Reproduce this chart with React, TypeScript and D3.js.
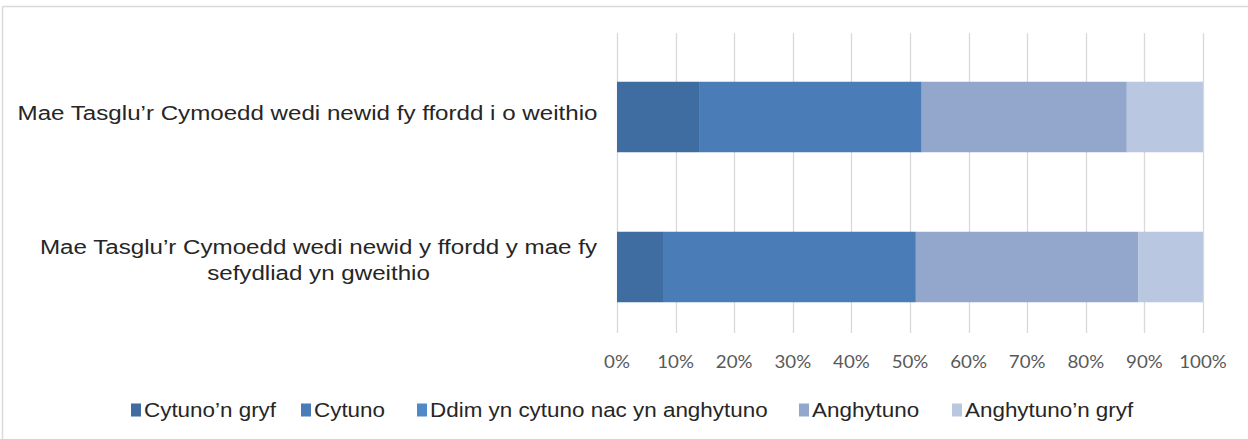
import React from "react";
import * as d3 from "d3";

const categories = [
  ["Mae Tasglu’r Cymoedd wedi newid fy ffordd i o weithio"],
  ["Mae Tasglu’r Cymoedd wedi newid y ffordd y mae fy", "sefydliad yn gweithio"],
];
const seriesNames = [
  "Cytuno’n gryf",
  "Cytuno",
  "Ddim yn cytuno nac yn anghytuno",
  "Anghytuno",
  "Anghytuno’n gryf",
];
const seriesColors = ["#3f6ca1", "#4a7db8", "#5089c8", "#93a7cd", "#b9c8e0"];
const cytunoGryf = [14, 8];
const cytuno = [38, 43];
const ddim = [0, 0];
const anghytuno = [35, 38];
const anghytunoGryf = [13, 11];
const tickValues = [0, 10, 20, 30, 40, 50, 60, 70, 80, 90, 100];

const W = 1248;
const H = 439;
const SX = 1.15;

export default function App() {
  const series = [cytunoGryf, cytuno, ddim, anghytuno, anghytunoGryf];
  const x = d3.scaleLinear().domain([0, 100]).range([617, 1203]);
  const y = d3
    .scaleBand<number>()
    .domain([0, 1])
    .range([42, 342])
    .paddingInner(0.53)
    .paddingOuter(0.265);
  const bw = y.bandwidth();

  const rows = categories.map((_, ci) => {
    let acc = 0;
    return series.map((s, si) => {
      const x0 = acc;
      acc += s[ci];
      return { si, x0, x1: acc };
    });
  });

  const legendX = [144, 314, 430, 812, 965];
  const labelCX = [307.5, 318.5];
  const labelBase = [[120], [254, 280]];

  return (
    <div style={{ position: "absolute", left: 0, top: 0 }}>
      <svg width={W} height={H} style={{ display: "block", background: "#fff" }}>
        <line x1={2.5} x2={W} y1={6.5} y2={6.5} stroke="#d9d9d9" strokeWidth={1.5} />
        <line x1={2.5} x2={2.5} y1={6.5} y2={H} stroke="#d9d9d9" strokeWidth={1.5} />
        {tickValues.map((t) => (
          <line
            key={t}
            x1={Math.round(x(t)) + 0.5}
            x2={Math.round(x(t)) + 0.5}
            y1={33}
            y2={333}
            stroke="#d9d9d9"
            strokeWidth={1.3}
          />
        ))}
        {rows.map((segs, ci) =>
          segs.map((sg) =>
            sg.x1 > sg.x0 ? (
              <rect
                key={ci + "-" + sg.si}
                x={x(sg.x0)}
                y={y(ci)!}
                width={x(sg.x1) - x(sg.x0)}
                height={bw}
                fill={seriesColors[sg.si]}
              />
            ) : null
          )
        )}
        {tickValues.map((t) => (
          <text
            key={"t" + t}
            transform={`translate(${x(t)},368) scale(1.1,1)`}
            textAnchor="middle"
            fontFamily="Lato, 'Open Sans', sans-serif"
            fontSize={17}
            fill="#595959"
          >
            {t + "%"}
          </text>
        ))}
        {categories.map((lines, ci) =>
          lines.map((l, li) => (
            <text
              key={"c" + ci + "-" + li}
              transform={`translate(${labelCX[ci]},${labelBase[ci][li]}) scale(${SX},1)`}
              fontFamily="'Liberation Sans', Arial, sans-serif"
              fontSize={21}
              fill="#262626"
              textAnchor="middle"
            >
              {l}
            </text>
          ))
        )}
        {seriesNames.map((n, i) => (
          <g key={"l" + i} transform={`translate(${legendX[i]},410)`}>
            <rect x={-13} y={-6.5} width={10} height={13} fill={seriesColors[i]} />
            <text
              transform={`translate(0,7) scale(${SX},1)`}
              fontFamily="'Liberation Sans', Arial, sans-serif"
              fontSize={19.5}
              fill="#262626"
            >
              {n}
            </text>
          </g>
        ))}
      </svg>
    </div>
  );
}
